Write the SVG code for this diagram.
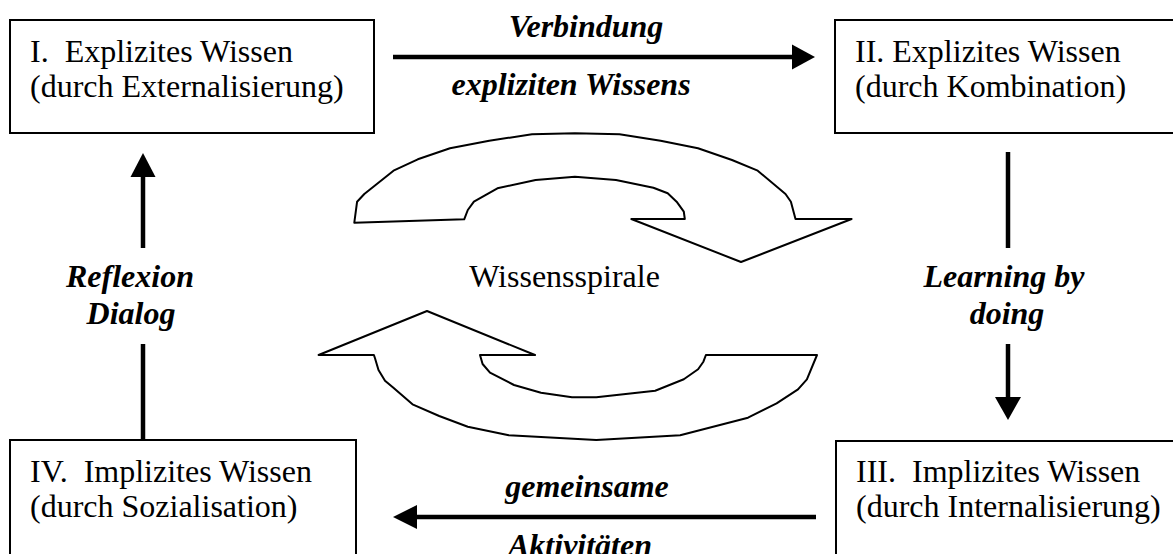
<svg xmlns="http://www.w3.org/2000/svg" width="1173" height="554" viewBox="0 0 1173 554">
<style>
.box{fill:#fff;stroke:#000;stroke-width:2}
.t{font-family:"Liberation Serif","Times New Roman",serif;font-size:32px;fill:#000;white-space:pre}
.b{font-family:"Liberation Serif","Times New Roman",serif;font-size:32px;font-weight:bold;font-style:italic;fill:#000}
.ln{stroke:#000;stroke-width:4.5;fill:none}
.hd{fill:#000;stroke:none}
.sp{fill:#fff;stroke:#000;stroke-width:2;stroke-linejoin:round}
</style>
<rect width="1173" height="554" fill="#fff"/>
<g id="node-I">
<rect class="box" x="10" y="20" width="364" height="113"/>
<text class="t" x="30" y="62" xml:space="preserve">I.  Explizites Wissen</text>
<text class="t" x="30" y="97">(durch Externalisierung)</text>
</g>
<g id="node-II">
<rect class="box" x="835" y="20" width="345" height="113"/>
<text class="t" x="855" y="62">II. Explizites Wissen</text>
<text class="t" x="855" y="97">(durch Kombination)</text>
</g>
<g id="node-III">
<rect class="box" x="836" y="441" width="345" height="130"/>
<text class="t" x="856" y="482" xml:space="preserve">III.  Implizites Wissen</text>
<text class="t" x="856" y="517">(durch Internalisierung)</text>
</g>
<g id="node-IV">
<rect class="box" x="10" y="440" width="346" height="130"/>
<text class="t" x="30" y="482" xml:space="preserve">IV.  Implizites Wissen</text>
<text class="t" x="30" y="517">(durch Sozialisation)</text>
</g>
<g id="spiral">
<path class="sp" d="M354.3,222.7 L357.1,201.7 L364.3,194 L393.5,170.7 L417.8,159.3 L450,148.3 L489.2,140.7 L532,134.3 L574.9,133.3 L619.5,134.3 L660.6,140.7 L698,148.3 L732,160 L757.7,170.7 L785.5,194 L790.9,201.7 L795.5,219 L851.6,219 L741,262 L631.3,219 L684.8,219 L683.8,211.7 L676.6,201.7 L667.7,193.3 L653.4,187.7 L616,180 L574.9,176.7 L535.6,180 L497.4,188.3 L473.9,201.7 L467.8,210 L464.2,219.3 Z"/>
<path class="sp" d="M318.6,355 L427,311 L535,355 L480,355 L482.6,364 L490,372.7 L514,385 L541,392.7 L572,397.3 L596.3,397.3 L655.2,390.7 L683.8,379.3 L698.1,369.3 L703.4,361.7 L705.9,355 L817,355 L806.9,379.3 L798,389.3 L776.6,403.3 L748,417.7 L680.2,435.3 L596.3,440 L508.8,435.3 L467.8,426.7 L439.2,416 L412.5,404.3 L392.8,387.3 L385,380.7 L378.5,370 L375,358.3 L373.9,355 Z"/>
<text class="t" x="564.5" y="287" text-anchor="middle">Wissensspirale</text>
</g>
<g id="connectors">
<line class="ln" x1="393" y1="57" x2="794" y2="57"/>
<polygon class="hd" points="792,44.5 815,57 792,69.5"/>
<line class="ln" x1="816" y1="517" x2="415" y2="517"/>
<polygon class="hd" points="417,505 393,517 417,529"/>
<line class="ln" x1="143" y1="440" x2="143" y2="344"/>
<line class="ln" x1="143" y1="248" x2="143" y2="175"/>
<polygon class="hd" points="130.5,177 143,153 155.5,177"/>
<line class="ln" x1="1008" y1="152" x2="1008" y2="248"/>
<line class="ln" x1="1008" y1="344" x2="1008" y2="399"/>
<polygon class="hd" points="995,397 1021,397 1008,420"/>
</g>
<g id="labels">
<text class="b" x="586" y="37" text-anchor="middle">Verbindung</text>
<text class="b" x="571" y="95" text-anchor="middle">expliziten Wissens</text>
<text class="b" x="587" y="497" text-anchor="middle">gemeinsame</text>
<text class="b" x="580" y="556" text-anchor="middle">Aktivitäten</text>
<text class="b" x="130" y="287" text-anchor="middle">Reflexion</text>
<text class="b" x="131" y="324" text-anchor="middle">Dialog</text>
<text class="b" x="1004" y="287" text-anchor="middle">Learning by</text>
<text class="b" x="1007" y="324" text-anchor="middle">doing</text>
</g>
</svg>
